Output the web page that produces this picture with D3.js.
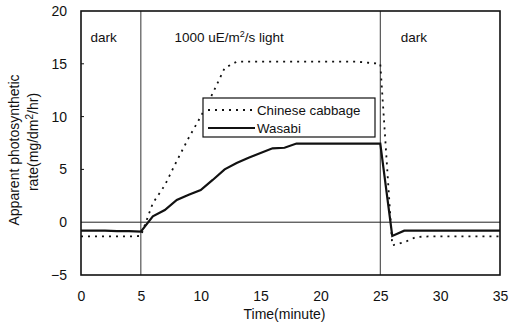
<!DOCTYPE html>
<html>
<head>
<meta charset="utf-8">
<script src="https://cdn.jsdelivr.net/npm/d3@7"></script>
<style>
  body { margin: 0; background: #fff; }
  svg { display: block; font-family: "Liberation Sans", Arial, sans-serif; }
</style>
</head>
<body>
<div id="chart"></div>
<script>
// ---- data ----
const minutes = [0, 1, 2, 3, 4, 5, 6, 7, 8, 9, 10, 11, 12, 13, 14, 15, 16, 17, 18,
  19, 20, 21, 22, 23, 24, 25, 26, 27, 28, 29, 30, 31, 32, 33, 34, 35];
const cabbage = [-1.35, -1.35, -1.35, -1.35, -1.35, -1.3, 1.8, 3.5, 5.8, 8.0, 10.0,
  12.2, 14.6, 15.2, 15.2, 15.2, 15.2, 15.2, 15.2, 15.2, 15.2, 15.2, 15.2, 15.2, 15.1,
  15.0, -2.2, -1.9, -1.4, -1.35, -1.35, -1.35, -1.35, -1.35, -1.35, -1.35];
const wasabi = [-0.8, -0.8, -0.8, -0.85, -0.85, -0.9, 0.55, 1.15, 2.1, 2.6, 3.05,
  4.0, 5.0, 5.6, 6.1, 6.55, 7.0, 7.05, 7.45, 7.45, 7.45, 7.45, 7.45, 7.45, 7.45,
  7.45, -1.3, -0.8, -0.8, -0.8, -0.8, -0.8, -0.8, -0.8, -0.8, -0.8];
const xTicks = [0, 5, 10, 15, 20, 25, 30, 35];
const yTicks = [-5, 0, 5, 10, 15, 20];
const phaseBreaks = [5, 25];
const phaseLabels = [
  { t: 0.8, html: "dark" },
  { t: 7.8, html: "1000 uE/m<tspan baseline-shift='super' font-size='9'>2</tspan>/s light" },
  { t: 26.7, html: "dark" },
];

const width = 509, height = 329;
const margin = { top: 11, right: 9, bottom: 54, left: 81 };

const x = d3.scaleLinear().domain([0, 35]).range([margin.left, width - margin.right]);
const y = d3.scaleLinear().domain([-5, 20]).range([height - margin.bottom, margin.top]);

const svg = d3.select("#chart").append("svg")
  .attr("width", width).attr("height", height);

const ink = "#111";

// phase separators + zero line
svg.append("g").selectAll("line").data(phaseBreaks).join("line")
  .attr("x1", d => x(d)).attr("x2", d => x(d))
  .attr("y1", y(20)).attr("y2", y(-5))
  .attr("stroke", "#333").attr("stroke-width", 1);
svg.append("line")
  .attr("x1", x(0)).attr("x2", x(35)).attr("y1", y(0)).attr("y2", y(0))
  .attr("stroke", "#222").attr("stroke-width", 1);

// axes
const yAxis = svg.append("g").attr("transform", `translate(${x(0)},0)`)
  .call(d3.axisLeft(y).tickValues(yTicks).tickSize(0).tickPadding(14));
const xAxis = svg.append("g").attr("transform", `translate(0,${y(-5)})`)
  .call(d3.axisBottom(x).tickValues(xTicks).tickSize(0).tickPadding(16));
[xAxis, yAxis].forEach(a => {
  a.select(".domain").remove();
  a.selectAll("text").attr("font-size", 14).attr("fill", ink)
    .attr("font-family", "'Liberation Sans', Arial, sans-serif");
});
yAxis.selectAll("text").text(d => d < 0 ? "\u2212" + Math.abs(d) : d);

// small inward ticks on the y axis
svg.append("g").selectAll("line").data([5, 10, 15]).join("line")
  .attr("x1", x(0)).attr("x2", x(0) + 3)
  .attr("y1", d => y(d)).attr("y2", d => y(d))
  .attr("stroke", ink);

// frame
svg.append("rect")
  .attr("x", x(0)).attr("y", y(20))
  .attr("width", x(35) - x(0)).attr("height", y(-5) - y(20))
  .attr("fill", "none").attr("stroke", ink).attr("stroke-width", 1.6);

// series
const line = d3.line().x((d, i) => x(minutes[i])).y(d => y(d));
svg.append("path").datum(cabbage).attr("d", line)
  .attr("fill", "none").attr("stroke", ink).attr("stroke-width", 1.8)
  .attr("stroke-dasharray", "2,5");
svg.append("path").datum(wasabi).attr("d", line)
  .attr("fill", "none").attr("stroke", ink).attr("stroke-width", 2.2);

// phase labels
svg.append("g").selectAll("text").data(phaseLabels).join("text")
  .attr("x", d => x(d.t)).attr("y", 42)
  .attr("font-size", 13.5).attr("fill", ink)
  .html(d => d.html);

// legend
const lg = svg.append("g").attr("transform", "translate(203,98)");
lg.append("rect").attr("width", 172).attr("height", 39)
  .attr("fill", "#fff").attr("stroke", ink).attr("stroke-width", 1.2);
const legendItems = [
  { name: "Chinese cabbage", dash: "2,5", w: 1.8 },
  { name: "Wasabi", dash: null, w: 2.2 },
];
legendItems.forEach((d, i) => {
  const ly = 12 + i * 18;
  lg.append("line").attr("x1", 5).attr("x2", 52).attr("y1", ly).attr("y2", ly)
    .attr("stroke", ink).attr("stroke-width", d.w)
    .attr("stroke-dasharray", d.dash);
  lg.append("text").attr("x", 54).attr("y", ly + 5)
    .attr("font-size", 13.3).attr("fill", ink).text(d.name);
});

// axis titles
svg.append("text").attr("x", x(17.5) - 6).attr("y", 319)
  .attr("text-anchor", "middle").attr("font-size", 14).attr("fill", ink)
  .text("Time(minute)");
const yt = svg.append("g").attr("transform", "rotate(-90)")
  .attr("text-anchor", "middle").attr("font-size", 14).attr("fill", ink);
yt.append("text").attr("x", -150).attr("y", 19).text("Apparent photosynthetic");
yt.append("text").attr("x", -142).attr("y", 38)
  .html("rate(mg/dm<tspan baseline-shift='super' font-size='10'>2</tspan>/hr)");
</script>
</body>
</html>
